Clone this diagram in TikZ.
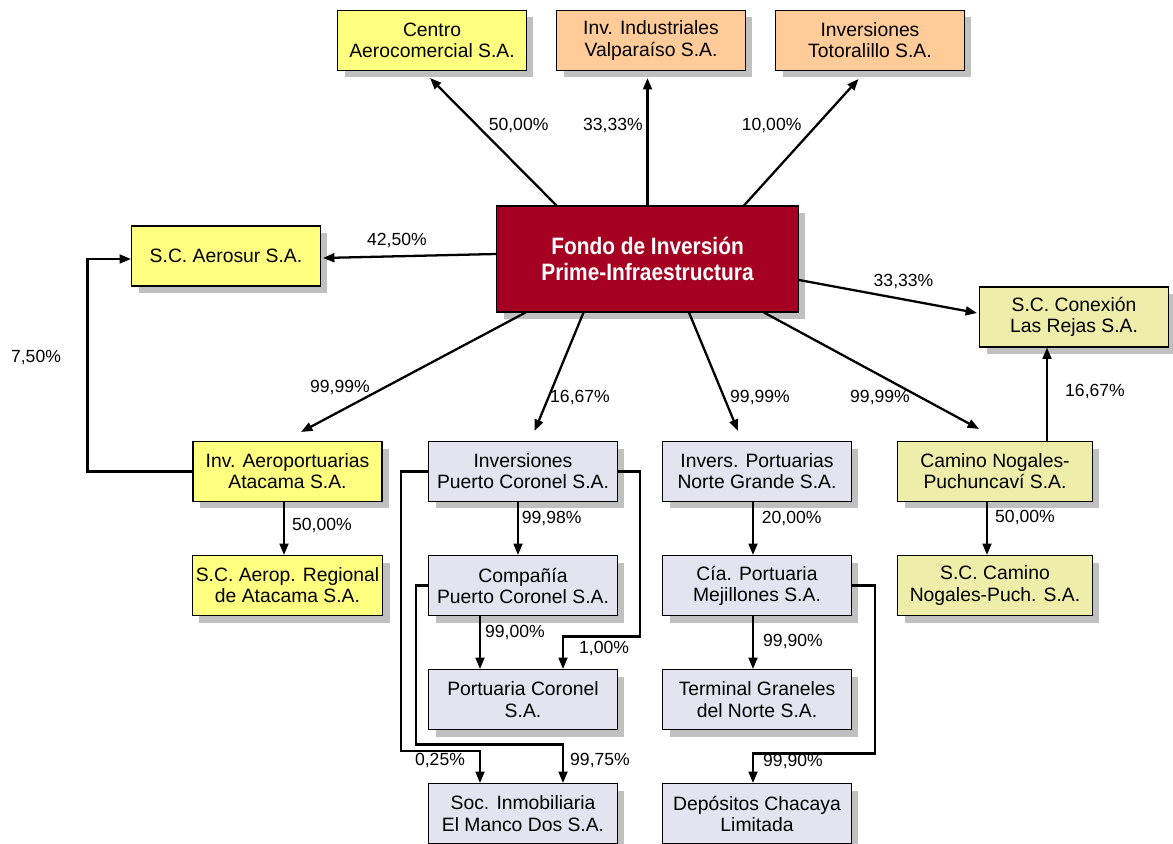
\documentclass[tikz,border=0pt]{standalone}
\usepackage{fontspec}
\setmainfont{Liberation Sans}
\newfontfamily\fondofont[FakeStretch=0.88]{Liberation Sans}
\usepackage{tikz}
\usetikzlibrary{arrows.meta,positioning,calc,shadows}
\definecolor{amarillo}{HTML}{FFFF80}
\definecolor{naranja}{HTML}{FFCC99}
\definecolor{caqui}{HTML}{EEEEAA}
\definecolor{lavanda}{HTML}{E4E4F0}
\definecolor{burdeo}{HTML}{A50021}
\definecolor{sombra}{HTML}{C0C0C0}

\begin{document}
\begin{tikzpicture}[x=0.02cm, y=-0.02cm, node distance=1.06cm,
   box/.style={draw, line width=0.6pt, minimum width=3.78cm, minimum height=1.2cm,
      inner sep=2pt, align=center, font=\fontsize{11}{12}\selectfont,
      drop shadow={shadow xshift=0.14cm, shadow yshift=-0.14cm, fill=sombra, opacity=1}},
   ylw/.style={box, fill=amarillo},
   nrj/.style={box, fill=naranja},
   cqi/.style={box, fill=caqui},
   lav/.style={box, fill=lavanda},
   link/.style={line width=1.3pt, -{Triangle[length=6.5pt,width=5pt]}},
   pct/.style={font=\fontsize{10}{12}\selectfont, inner sep=0pt}]
   \useasboundingbox (0,0) rectangle (1173,844);

   \node[ylw] (centro) at (432,40.5) {Centro\\Aerocomercial S.A.};
   \node[nrj] (induval) at (651,40.5) {Inv. Industriales\\Valparaíso S.A.};
   \node[nrj] (totoral) at (870,40.5) {Inversiones\\Totoralillo S.A.};
   \node[box, fill=burdeo, text=white, minimum width=6.04cm, minimum height=2.12cm,
      font=\fondofont\bfseries\fontsize{13.5}{14.5}\selectfont] (fondo) at (647.5,259)
      {Fondo de Inversión\\Prime-Infraestructura};
   \node[ylw] (aerosur) at (226,256) {S.C. Aerosur S.A.};
   \node[cqi] (conexion) at (1074,317) {S.C. Conexión\\Las Rejas S.A.};

   \node[ylw] (aeroport) at (287.5,471.5) {Inv. Aeroportuarias\\Atacama S.A.};
   \node[ylw] (aeroreg) [below=of aeroport] {S.C. Aerop. Regional\\de Atacama S.A.};
   \node[lav] (invpc) at (523,471.5) {Inversiones\\Puerto Coronel S.A.};
   \node[lav] (compania) [below=of invpc] {Compañía\\Puerto Coronel S.A.};
   \node[lav] (portcor) [below=of compania] {Portuaria Coronel\\S.A.};
   \node[lav] (inmob) [below=of portcor] {Soc. Inmobiliaria\\El Manco Dos S.A.};
   \node[lav] (invnorte) at (757,471.5) {Invers. Portuarias\\Norte Grande S.A.};
   \node[lav] (ciaport) [below=of invnorte] {Cía. Portuaria\\Mejillones S.A.};
   \node[lav] (terminal) [below=of ciaport] {Terminal Graneles\\del Norte S.A.};
   \node[lav] (depositos) [below=of terminal] {Depósitos Chacaya\\Limitada};
   \node[cqi, minimum width=3.9cm] (camino) at (995,471.5) {Camino Nogales-\\Puchuncaví S.A.};
   \node[cqi, minimum width=3.9cm] (sccamino) [below=of camino] {S.C. Camino\\Nogales-Puch. S.A.};

   \draw[link] ($(fondo.north)+(-91,0)$) -- ($(centro.south)+(-2,7)$);
   \draw[link] (fondo.north) -- ($(fondo.north |- induval.south)+(0,7)$);
   \draw[link] ($(fondo.north)+(96.5,0)$) -- ($(totoral.south)+(-11.5,8)$);
   \draw[link] ($(fondo.west)+(0,-5)$) -- ($(aerosur.east)+(2,2)$);
   \draw[link] ($(fondo.east)+(0,21)$) -- ($(conexion.west)+(-2,-4)$);
   \draw[link] ($(fondo.south)+(-122,0)$) -- ($(aeroport.north)+(13.5,-9)$);
   \draw[link] ($(fondo.south)+(-64,0)$) -- ($(invpc.north)+(11.6,-10)$);
   \draw[link] ($(fondo.south)+(41.5,0)$) -- ($(invnorte.north)+(-19,-10)$);
   \draw[link] ($(fondo.south)+(116.5,0)$) -- ($(camino.north)+(-16,-12)$);

   \draw[link] (aeroport.west) -- ++(-105,0) |- ($(aerosur.west)+(0,3)$);
   \draw[link] ($(aeroport.south)+(-3.5,0)$) -- ($(aeroreg.north)+(-3.5,0)$);
   \draw[link] ($(camino.north)+(52,0)$) -- ($(conexion.south)+(-27,0)$);
   \draw[link] ($(camino.south)+(-8,0)$) -- ($(sccamino.north)+(-8,0)$);

   \draw[link] ($(invpc.south)+(-5,0)$) -- ($(compania.north)+(-5,0)$);
   \draw[link] ($(compania.south)+(-43,0)$) -- ($(portcor.north)+(-43,0)$);
   \draw[link] (invpc.east) -- ++(22,0) -- ++(0,165) -| ($(portcor.north)+(40,0)$);
   \draw[link] (invpc.west) -- ++(-27,0) -- ++(0,279.5) -| ($(inmob.north)+(-43,0)$);
   \draw[link] (compania.west) -- ++(-12,0) -- ++(0,159) -| ($(inmob.north)+(40,0)$);

   \draw[link] ($(invnorte.south)+(-4,0)$) -- ($(ciaport.north)+(-4,0)$);
   \draw[link] ($(ciaport.south)+(-4,0)$) -- ($(terminal.north)+(-4,0)$);
   \draw[link] (ciaport.east) -- ++(23,0) -- ++(0,168) -| ($(depositos.north)+(-4,0)$);

   \node[pct] (p1) at (518.6,125) {50,00\%};
   \node[pct] (p2) at (613,125) {33,33\%};
   \node[pct] (p3) at (771.6,125) {10,00\%};
   \node[pct] (p4) at (397,240) {42,50\%};
   \node[pct] (p5) at (903.5,281) {33,33\%};
   \node[pct] (p6) at (36,357) {7,50\%};
   \node[pct] (p7) at (340,387) {99,99\%};
   \node[pct] (p8) at (580,397) {16,67\%};
   \node[pct] (p9) at (760,397) {99,99\%};
   \node[pct] (p10) at (880,397) {99,99\%};
   \node[pct] (p11) at (1095,391) {16,67\%};
   \node[pct] (p12) at (322,525) {50,00\%};
   \node[pct] (p13) at (1025,517) {50,00\%};
   \node[pct] (p14) at (551.7,518) {99,98\%};
   \node[pct] (p15) at (515,632) {99,00\%};
   \node[pct] (p16) at (604,648) {1,00\%};
   \node[pct] (p17) at (440,760) {0,25\%};
   \node[pct] (p18) at (600,760) {99,75\%};
   \node[pct] (p19) at (791.7,518) {20,00\%};
   \node[pct] (p20) at (793,641) {99,90\%};
   \node[pct] (p21) at (793,761) {99,90\%};
\end{tikzpicture}
\end{document}
